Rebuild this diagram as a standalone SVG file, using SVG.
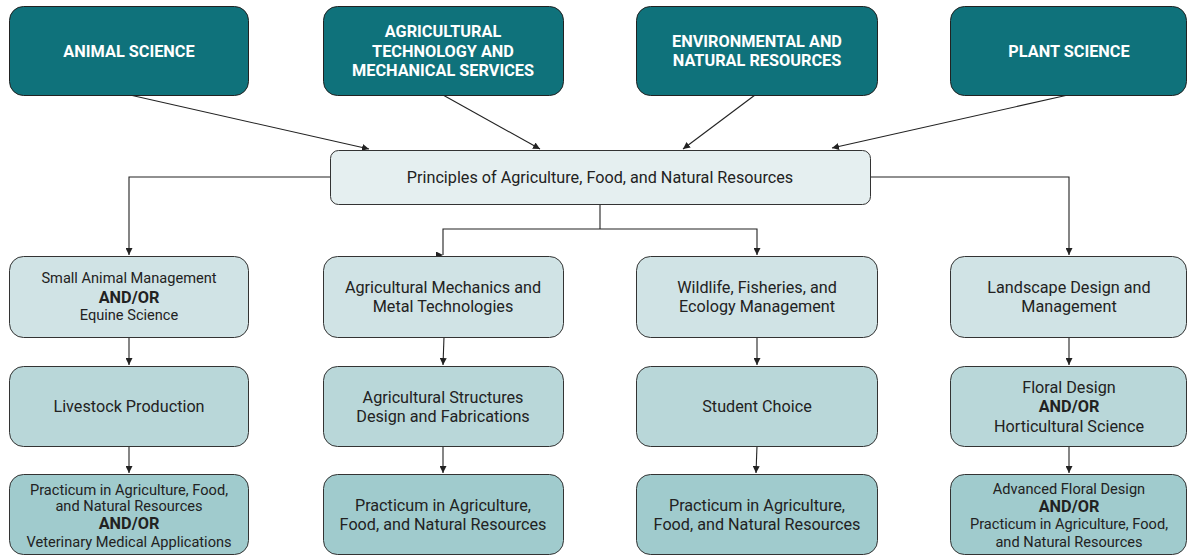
<svg xmlns="http://www.w3.org/2000/svg" width="1187" height="556" viewBox="0 0 1187 556">
<defs>
<style>
.top{fill:#0f727b;stroke:#222;stroke-width:1}
.p{fill:#e5eff0;stroke:#333;stroke-width:1}
.r2{fill:#d0e3e5;stroke:#333;stroke-width:1}
.r3{fill:#b9d7d9;stroke:#333;stroke-width:1}
.r4{fill:#a0cbcd;stroke:#333;stroke-width:1}
text{font-family:Roboto,"Liberation Sans",sans-serif;text-anchor:middle;dominant-baseline:central;fill:#222}
.tt{fill:#fff;font-weight:bold;font-size:16.3px}
.m{font-size:16.2px}
.s{font-size:14.6px}
.b{font-weight:bold;font-size:16.3px}
.c{fill:none;stroke:#222;stroke-width:1.1}
</style>
<marker id="ah" viewBox="0 0 10 10" refX="10" refY="5" markerWidth="7" markerHeight="7" markerUnits="userSpaceOnUse" orient="auto">
<path d="M0,0 L10,5 L0,10 z" fill="#222"/>
</marker>
</defs>
<g id="connectors">
<line class="c" x1="130" y1="95" x2="369" y2="149" marker-end="url(#ah)"/>
<line class="c" x1="443" y1="95" x2="540" y2="149" marker-end="url(#ah)"/>
<line class="c" x1="755" y1="95" x2="683" y2="149" marker-end="url(#ah)"/>
<line class="c" x1="1068" y1="95" x2="832" y2="148" marker-end="url(#ah)"/>
<polyline class="c" points="330,177 129,177 129,255" marker-end="url(#ah)"/>
<polyline class="c" points="870,177 1069,177 1069,255" marker-end="url(#ah)"/>
<line class="c" x1="600" y1="204" x2="600" y2="229"/>
<polyline class="c" points="443,255 443,229 757,229 757,255" marker-end="url(#ah)"/>
<line class="c" x1="443" y1="255" x2="443" y2="255" marker-end="url(#ah)"/>
<line class="c" x1="129" y1="337" x2="129" y2="365" marker-end="url(#ah)"/>
<line class="c" x1="444" y1="337" x2="443" y2="365" marker-end="url(#ah)"/>
<line class="c" x1="757" y1="337" x2="757" y2="365" marker-end="url(#ah)"/>
<line class="c" x1="1069" y1="337" x2="1069" y2="365" marker-end="url(#ah)"/>
<line class="c" x1="129" y1="446" x2="129" y2="473" marker-end="url(#ah)"/>
<line class="c" x1="443" y1="446" x2="443" y2="473" marker-end="url(#ah)"/>
<line class="c" x1="757" y1="446" x2="756" y2="473" marker-end="url(#ah)"/>
<line class="c" x1="1069" y1="446" x2="1069" y2="473" marker-end="url(#ah)"/>
</g>
<g id="animal-science"><rect class="top" x="9.5" y="6.5" width="239" height="89" rx="14"/><text class="tt" x="129" y="51">ANIMAL SCIENCE</text></g>
<g id="ag-tech"><rect class="top" x="323.5" y="6.5" width="240" height="89" rx="14"/><text class="tt" x="443" y="31">AGRICULTURAL</text><text class="tt" x="443" y="51">TECHNOLOGY AND</text><text class="tt" x="443" y="70">MECHANICAL SERVICES</text></g>
<g id="env"><rect class="top" x="636.5" y="6.5" width="241" height="89" rx="14"/><text class="tt" x="757" y="41">ENVIRONMENTAL AND</text><text class="tt" x="757" y="60">NATURAL RESOURCES</text></g>
<g id="plant-science"><rect class="top" x="950.5" y="6.5" width="236" height="89" rx="14"/><text class="tt" x="1069" y="51">PLANT SCIENCE</text></g>
<g id="principles"><rect class="p" x="330.5" y="150.5" width="540" height="54" rx="8"/><text class="m" x="600" y="177">Principles of Agriculture, Food, and Natural Resources</text></g>
<g id="small-animal"><rect class="r2" x="9.5" y="256.5" width="239" height="81" rx="14"/><text class="s" x="129" y="278">Small Animal Management</text><text class="b" x="129" y="297">AND/OR</text><text class="s" x="129" y="315">Equine Science</text></g>
<g id="ag-mech"><rect class="r2" x="323.5" y="256.5" width="240" height="81" rx="14"/><text class="m" x="443" y="287">Agricultural Mechanics and</text><text class="m" x="443" y="306">Metal Technologies</text></g>
<g id="wildlife"><rect class="r2" x="636.5" y="256.5" width="241" height="81" rx="14"/><text class="m" x="757" y="287">Wildlife, Fisheries, and</text><text class="m" x="757" y="306">Ecology Management</text></g>
<g id="landscape"><rect class="r2" x="950.5" y="256.5" width="236" height="81" rx="14"/><text class="m" x="1069" y="287">Landscape Design and</text><text class="m" x="1069" y="306">Management</text></g>
<g id="livestock"><rect class="r3" x="9.5" y="366.5" width="239" height="80" rx="14"/><text class="m" x="129" y="406">Livestock Production</text></g>
<g id="ag-structures"><rect class="r3" x="323.5" y="366.5" width="240" height="80" rx="14"/><text class="m" x="443" y="397">Agricultural Structures</text><text class="m" x="443" y="416">Design and Fabrications</text></g>
<g id="student-choice"><rect class="r3" x="636.5" y="366.5" width="241" height="80" rx="14"/><text class="m" x="757" y="406">Student Choice</text></g>
<g id="floral"><rect class="r3" x="950.5" y="366.5" width="236" height="80" rx="14"/><text class="m" x="1069" y="387">Floral Design</text><text class="b" x="1069" y="406">AND/OR</text><text class="m" x="1069" y="426">Horticultural Science</text></g>
<g id="practicum-vet"><rect class="r4" x="9.5" y="474.5" width="239" height="80" rx="14"/><text class="s" x="129" y="490">Practicum in Agriculture, Food,</text><text class="s" x="129" y="506">and Natural Resources</text><text class="b" x="129" y="523">AND/OR</text><text class="s" x="129" y="542">Veterinary Medical Applications</text></g>
<g id="practicum-2"><rect class="r4" x="323.5" y="474.5" width="240" height="80" rx="14"/><text class="m" x="443" y="505">Practicum in Agriculture,</text><text class="m" x="443" y="524">Food, and Natural Resources</text></g>
<g id="practicum-3"><rect class="r4" x="636.5" y="474.5" width="241" height="80" rx="14"/><text class="m" x="757" y="505">Practicum in Agriculture,</text><text class="m" x="757" y="524">Food, and Natural Resources</text></g>
<g id="advanced-floral"><rect class="r4" x="950.5" y="474.5" width="236" height="80" rx="14"/><text class="s" x="1069" y="489">Advanced Floral Design</text><text class="b" x="1069" y="506">AND/OR</text><text class="s" x="1069" y="524">Practicum in Agriculture, Food,</text><text class="s" x="1069" y="542">and Natural Resources</text></g>
</svg>
